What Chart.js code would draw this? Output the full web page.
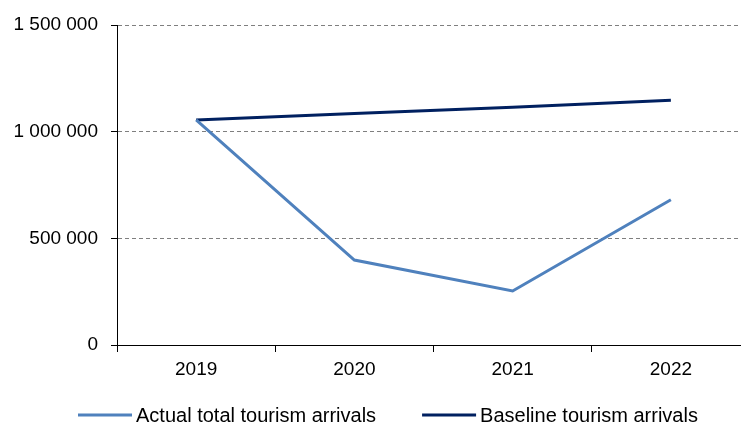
<!DOCTYPE html>
<html>
<head>
<meta charset="utf-8">
<script src="https://cdn.jsdelivr.net/npm/chart.js@4"></script>
<style>
  html, body { margin: 0; padding: 0; background: #fff; overflow: hidden; }
  #wrap { width: 741px; height: 426px; overflow: hidden; }
</style>
</head>
<body>
<div id="wrap"><canvas id="chart" width="750" height="426"></canvas></div>
<script>
// Tourism arrivals: actual vs baseline
const years = ['2019', '2020', '2021', '2022'];
const actualArrivals = [1055000, 398000, 253000, 681000];
const baselineArrivals = [1055000, 1085000, 1115000, 1147000];
const yTicks = [0, 500000, 1000000, 1500000];

const FONT = "'Liberation Sans', Arial, sans-serif";
Chart.defaults.font.family = FONT;
Chart.defaults.font.size = 19;
Chart.defaults.color = '#000';

function spaced(v) {
    return String(v).replace(/\B(?=(\d{3})+(?!\d))/g, ' ');
}

// Simple legend drawn under the x axis (line sample + label)
const bottomLegend = {
    id: 'bottomLegend',
    afterDraw(chart) {
        const ctx = chart.ctx;
        const lineLen = 54, gapText = 4, gapItem = 46;
        ctx.save();
        ctx.font = '20px ' + FONT;
        ctx.textBaseline = 'middle';
        const items = chart.data.datasets.map(ds => ({
            text: ds.label, color: ds.borderColor, w: ctx.measureText(ds.label).width
        }));
        let x = 78;
        const y = 415;
        items.forEach(it => {
            ctx.strokeStyle = it.color;
            ctx.lineWidth = 3;
            ctx.beginPath();
            ctx.moveTo(x, y);
            ctx.lineTo(x + lineLen, y);
            ctx.stroke();
            ctx.fillStyle = '#000';
            ctx.fillText(it.text, x + lineLen + gapText, y + 1);
            x += lineLen + gapText + it.w + gapItem;
        });
        ctx.restore();
    }
};

new Chart(document.getElementById('chart'), {
    type: 'line',
    data: {
        labels: years,
        datasets: [{
            label: 'Actual total tourism arrivals',
            data: actualArrivals,
            borderColor: '#4F81BD',
            backgroundColor: '#4F81BD',
            borderWidth: 3,
            pointRadius: 0,
            tension: 0
        }, {
            label: 'Baseline tourism arrivals',
            data: baselineArrivals,
            borderColor: '#002060',
            backgroundColor: '#002060',
            borderWidth: 3,
            pointRadius: 0,
            tension: 0
        }]
    },
    options: {
        responsive: false,
        animation: false,
        layout: { padding: { left: 0, right: 0, top: 25, bottom: 40 } },
        plugins: {
            legend: { display: false },
            tooltip: { enabled: false }
        },
        scales: {
            x: {
                offset: true,
                grid: {
                    offset: true,
                    drawOnChartArea: false,
                    tickLength: 7,
                    tickColor: '#000'
                },
                border: { color: '#000', width: 1 },
                ticks: { padding: 6, maxRotation: 0 },
                afterFit(scale) { scale.height = 41; }
            },
            y: {
                min: 0,
                max: 1500000,
                afterBuildTicks(scale) { scale.ticks = yTicks.map(v => ({ value: v })); },
                grid: {
                    color: c => (c.tick && c.tick.value === 0) ? 'rgba(0,0,0,0)' : '#7f7f7f',
                    lineWidth: 1,
                    tickLength: 6,
                    tickColor: '#000'
                },
                border: { color: '#000', width: 1, dash: [4, 3] },
                ticks: { padding: 13, callback: v => spaced(v) },
                afterFit(scale) { scale.width = 117; }
            }
        }
    },
    plugins: [bottomLegend]
});
</script>
</body>
</html>
